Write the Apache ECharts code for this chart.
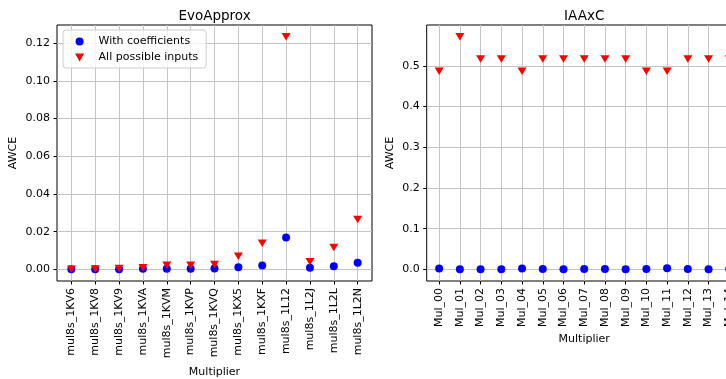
<!DOCTYPE html>
<html>
<head>
<meta charset="utf-8">
<script src="https://cdn.jsdelivr.net/npm/echarts@6/dist/echarts.min.js"></script>
<style>
  html, body { margin: 0; padding: 0; background: #fff; }
  #chart { width: 726px; height: 379px; }
</style>
</head>
<body>
<div id="chart"></div>
<script>
// EvoApprox multipliers
const evoCats = ['mul8s_1KV6', 'mul8s_1KV8', 'mul8s_1KV9', 'mul8s_1KVA', 'mul8s_1KVM', 'mul8s_1KVP',
  'mul8s_1KVQ', 'mul8s_1KX5', 'mul8s_1KXF', 'mul8s_1L12', 'mul8s_1L2J', 'mul8s_1L2L', 'mul8s_1L2N'];
const evoCoef = [0.0000, 0.0001, 0.0001, 0.0003, 0.0003, 0.0003, 0.0004, 0.0011, 0.0021, 0.0169, 0.0009, 0.0016, 0.0035];
const evoAll = [0.0001, 0.0002, 0.0004, 0.0009, 0.0022, 0.0022, 0.0026, 0.0069, 0.0138, 0.1234, 0.0040, 0.0116, 0.0264];

// IAAxC multipliers
const iaCats = ['Mul_00', 'Mul_01', 'Mul_02', 'Mul_03', 'Mul_04', 'Mul_05', 'Mul_06', 'Mul_07',
  'Mul_08', 'Mul_09', 'Mul_10', 'Mul_11', 'Mul_12', 'Mul_13', 'Mul_14'];
const iaCoef = [0.002, 0.0005, 0.0005, 0.0005, 0.002, 0.001, 0.0005, 0.001, 0.001, 0.0, 0.001, 0.0025, 0.001, 0.0, 0.001];
const iaAll = [0.487, 0.572, 0.517, 0.517, 0.487, 0.517, 0.517, 0.517, 0.517, 0.517, 0.487, 0.487, 0.517, 0.517, 0.517];

const evoTicks = [0, 0.02, 0.04, 0.06, 0.08, 0.10, 0.12];
const iaTicks = [0, 0.1, 0.2, 0.3, 0.4, 0.5];

const FONT = 'DejaVu Sans';
const FS = 11;
const TRI_DOWN = 'path://M0,0L2,0L1,1.75Z';

// 5% padding around the data range, like an autoscaled axis
function padRange(arrs) {
  const all = [].concat(...arrs);
  const lo = Math.min(...all), hi = Math.max(...all);
  const m = (hi - lo) * 0.05;
  return [lo - m, hi + m];
}

function xAxis(gridIndex, cats, nameGap) {
  return {
    type: 'value', gridIndex,
    min: -0.6, max: cats.length - 1 + 0.6,
    name: 'Multiplier', nameLocation: 'middle', nameGap, nameMoveOverlap: false,
    nameTextStyle: { fontFamily: FONT, fontSize: FS, color: '#000' },
    axisLine: { show: false, onZero: false },
    axisTick: { show: true, length: 3.5, lineStyle: { color: '#000', width: 1 },
      customValues: cats.map((_, i) => i) },
    axisLabel: { rotate: 90, margin: 7, fontFamily: FONT, fontSize: FS, color: '#000',
      customValues: cats.map((_, i) => i), formatter: v => cats[Math.round(v)] },
    splitLine: { show: true, lineStyle: { color: '#c4c4c4', width: 1 } }
  };
}

function yAxis(gridIndex, ticks, range, digits, nameGap) {
  return {
    type: 'value', gridIndex,
    min: range[0], max: range[1],
    name: 'AWCE', nameLocation: 'middle', nameGap, nameRotate: 90, nameMoveOverlap: false,
    nameTextStyle: { fontFamily: FONT, fontSize: FS, color: '#000' },
    axisLine: { show: false, onZero: false },
    axisTick: { show: true, length: 3.5, lineStyle: { color: '#000', width: 1 }, customValues: ticks },
    axisLabel: { margin: 7, fontFamily: FONT, fontSize: FS, color: '#000',
      customValues: ticks, formatter: v => v.toFixed(digits) },
    splitLine: { show: true, lineStyle: { color: '#c4c4c4', width: 1 } }
  };
}

function pts(arr) { return arr.map((v, i) => [i, v]); }

const gridBase = { top: 25, width: 315, height: 256, show: true, borderColor: '#000', borderWidth: 1,
  backgroundColor: 'transparent', containLabel: false, outerBoundsMode: 'none' };

const titleStyle = { fontFamily: FONT, fontSize: 13.5, fontWeight: 'normal', color: '#000' };

const chart = echarts.init(document.getElementById('chart'), null, { renderer: 'canvas' });
chart.setOption({
  animation: false,
  backgroundColor: '#fff',
  title: [
    { text: 'EvoApprox', left: 209.5, top: 4, textAlign: 'center', textStyle: titleStyle },
    { text: 'IAAxC', left: 579.2, top: 4, textAlign: 'center', textStyle: titleStyle }
  ],
  grid: [
    Object.assign({ left: 57 }, gridBase),
    Object.assign({ left: 426.7 }, gridBase)
  ],
  xAxis: [xAxis(0, evoCats, 86), xAxis(1, iaCats, 53)],
  yAxis: [
    yAxis(0, evoTicks, padRange([evoCoef, evoAll]), 2, 38),
    yAxis(1, iaTicks, padRange([iaCoef, iaAll]), 1, 31)
  ],
  legend: {
    left: 63, top: 30, orient: 'vertical',
    padding: [6, 8, 5, 12], itemGap: 5, itemWidth: 24, itemHeight: 8,
    backgroundColor: 'rgba(255,255,255,0.8)', borderColor: '#cccccc', borderWidth: 1, borderRadius: 3,
    textStyle: { fontFamily: FONT, fontSize: FS, color: '#000', padding: [0, 0, 0, 2] },
    data: ['With coefficients', 'All possible inputs']
  },
  series: [
    { name: 'With coefficients', type: 'scatter', xAxisIndex: 0, yAxisIndex: 0,
      symbol: 'circle', symbolSize: 8, itemStyle: { color: '#0000ff', opacity: 1 }, data: pts(evoCoef) },
    { name: 'All possible inputs', type: 'scatter', xAxisIndex: 0, yAxisIndex: 0,
      symbol: TRI_DOWN, symbolSize: [9, 7.5], itemStyle: { color: '#ff0000', opacity: 1 }, data: pts(evoAll) },
    { name: 'With coefficients', type: 'scatter', xAxisIndex: 1, yAxisIndex: 1,
      symbol: 'circle', symbolSize: 8, itemStyle: { color: '#0000ff', opacity: 1 }, data: pts(iaCoef) },
    { name: 'All possible inputs', type: 'scatter', xAxisIndex: 1, yAxisIndex: 1,
      symbol: TRI_DOWN, symbolSize: [9, 7.5], itemStyle: { color: '#ff0000', opacity: 1 }, data: pts(iaAll) }
  ]
});
</script>
</body>
</html>
